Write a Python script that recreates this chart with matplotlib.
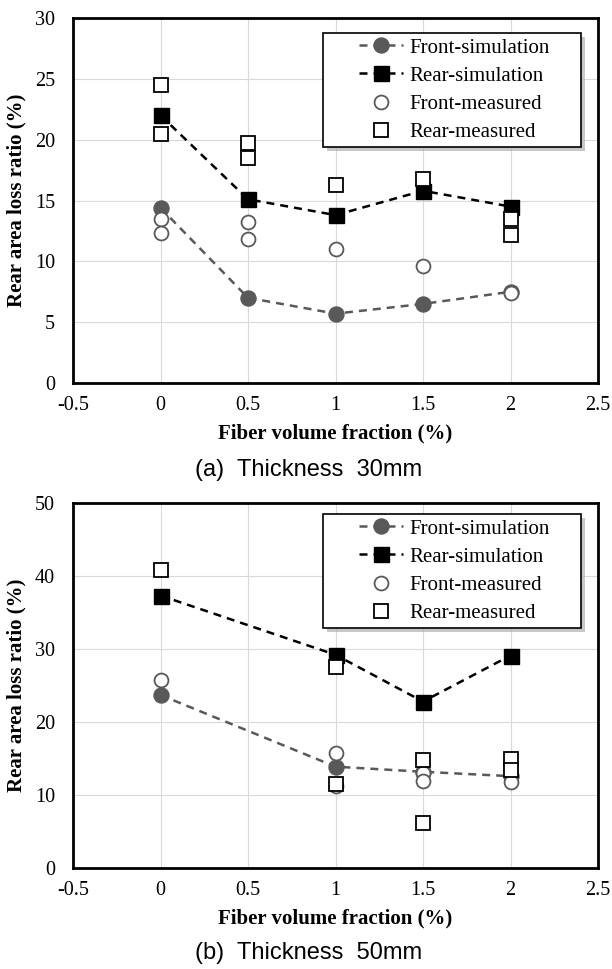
import matplotlib
matplotlib.use("Agg")
import matplotlib.pyplot as plt
from matplotlib.patches import Rectangle

plt.rcParams['font.family'] = ['Liberation Serif', 'DejaVu Serif']

# ---------------- data ----------------
# Panel (a) thickness 30 mm
x_sim_a = [0, 0.5, 1, 1.5, 2]
front_sim_a = [14.4, 7.0, 5.7, 6.5, 7.5]
rear_sim_a = [22.0, 15.1, 13.8, 15.8, 14.5]
x_front_meas_a = [0, 0, 0.5, 0.5, 1, 1.5, 2]
front_meas_a = [13.5, 12.35, 13.2, 11.8, 11.0, 9.6, 7.4]
x_rear_meas_a = [0, 0, 0.5, 0.5, 1, 1.5, 2, 2]
rear_meas_a = [24.5, 20.5, 19.7, 18.5, 16.3, 16.8, 13.5, 12.2]

# Panel (b) thickness 50 mm
x_sim_b = [0, 1, 1.5, 2]
front_sim_b = [23.7, 13.9, 13.2, 12.6]
rear_sim_b = [37.3, 29.2, 22.8, 29.1]
x_front_meas_b = [0, 1, 1, 1.5, 1.5, 2]
front_meas_b = [25.8, 15.8, 11.2, 13.1, 11.9, 11.8]
x_rear_meas_b = [0, 1, 1, 1.5, 1.5, 2, 2]
rear_meas_b = [40.8, 27.5, 11.5, 14.8, 6.2, 14.9, 13.5]

series_labels = ['Front-simulation', 'Rear-simulation', 'Front-measured', 'Rear-measured']
x_ticks = [-0.5, 0, 0.5, 1, 1.5, 2, 2.5]
x_ticklabels = ['-0.5', '0', '0.5', '1', '1.5', '2', '2.5']
y_ticks_a = [0, 5, 10, 15, 20, 25, 30]
y_ticks_b = [0, 10, 20, 30, 40, 50]
xlabel = 'Fiber volume fraction (%)'
ylabel = 'Rear area loss ratio (%)'
captions = ['(a)  Thickness  30mm', '(b)  Thickness  50mm']

# ---------------- style ----------------
W, H = 612, 969
GREY = '#595959'
GRID = '#d9d9d9'

fig = plt.figure(figsize=(W / 100, H / 100), dpi=100)


def px_axes(left, top, right, bottom):
    return [left / W, 1 - bottom / H, (right - left) / W, (bottom - top) / H]


def draw_panel(ax, xs, fs, rs, xfm, fm, xrm, rm, yticks, ax_px, legend_center_px, caption, cap_y):
    left, top, right, bottom = ax_px
    aw, ah = right - left, bottom - top

    ax.plot(xs, fs, color=GREY, lw=1.8, dashes=(3.2, 2.4), marker='o', ms=10.8,
            mfc=GREY, mec=GREY, label=series_labels[0], zorder=3)
    ax.plot(xs, rs, color='black', lw=1.8, dashes=(3.2, 2.4), marker='s', ms=10.8,
            mfc='black', mec='black', label=series_labels[1], zorder=3)
    ax.plot(xfm, fm, ls='none', marker='o', ms=10, mfc='white', mec=GREY, mew=1.3,
            label=series_labels[2], zorder=4)
    ax.plot(xrm, rm, ls='none', marker='s', ms=10, mfc='white', mec='black', mew=1.3,
            label=series_labels[3], zorder=4)

    ax.set_xlim(-0.5, 2.5)
    ax.set_ylim(yticks[0], yticks[-1])
    ax.set_xticks(x_ticks)
    ax.set_xticklabels(x_ticklabels)
    ax.set_yticks(yticks)
    ax.grid(True, color=GRID, lw=0.8, zorder=0)
    ax.set_axisbelow(True)
    ax.tick_params(axis='both', length=0, labelsize=14.5)
    ax.tick_params(axis='x', pad=9)
    ax.tick_params(axis='y', pad=13)
    for s in ax.spines.values():
        s.set_linewidth(2.0)
        s.set_color('black')

    ax.set_xlabel(xlabel, fontsize=15, fontweight='bold')
    ax.set_ylabel(ylabel, fontsize=15, fontweight='bold')
    ax.xaxis.set_label_coords(0.5, -40.5 / ah)
    ax.yaxis.set_label_coords((26 - left) / aw, 0.5)

    # legend box (frame drawn manually for the wide side padding)
    bx0, bx1 = 323, 581
    cy = legend_center_px
    bh = 114
    by_top, by_bot = cy - bh / 2, cy + bh / 2
    to_ax = lambda px, py: ((px - left) / aw, (bottom - py) / ah)
    x0, y0 = to_ax(bx0, by_bot)
    x1, y1 = to_ax(bx1, by_top)
    shadow = Rectangle((x0 + 3.5 / aw, y0 - 3.5 / ah), x1 - x0, y1 - y0, transform=ax.transAxes,
                       facecolor='#b0b0b0', edgecolor='none', alpha=0.7, zorder=5)
    box = Rectangle((x0, y0), x1 - x0, y1 - y0, transform=ax.transAxes,
                    facecolor='white', edgecolor='black', lw=1.2, zorder=6)
    ax.add_patch(shadow)
    ax.add_patch(box)
    hx, hy = to_ax(359, cy)
    leg = ax.legend(loc='center left', bbox_to_anchor=(hx, hy), frameon=False,
                    fontsize=15, handlelength=2.1, handletextpad=0.3, labelspacing=0.41,
                    borderpad=0, borderaxespad=0)
    leg.set_zorder(7)

    fig.text(309 / W, 1 - cap_y / H, caption, ha='center', va='center',
             fontsize=17, family=['Liberation Sans', 'DejaVu Sans'])


ax_a = fig.add_axes(px_axes(73, 18, 598, 383))
draw_panel(ax_a, x_sim_a, front_sim_a, rear_sim_a, x_front_meas_a, front_meas_a,
           x_rear_meas_a, rear_meas_a, y_ticks_a, (73, 18, 598, 383), 90, captions[0], 470)

ax_b = fig.add_axes(px_axes(73, 502.7, 598, 868.3))
draw_panel(ax_b, x_sim_b, front_sim_b, rear_sim_b, x_front_meas_b, front_meas_b,
           x_rear_meas_b, rear_meas_b, y_ticks_b, (73, 502.7, 598, 868.3), 571, captions[1], 953)

fig.savefig('out.png', dpi=100)
